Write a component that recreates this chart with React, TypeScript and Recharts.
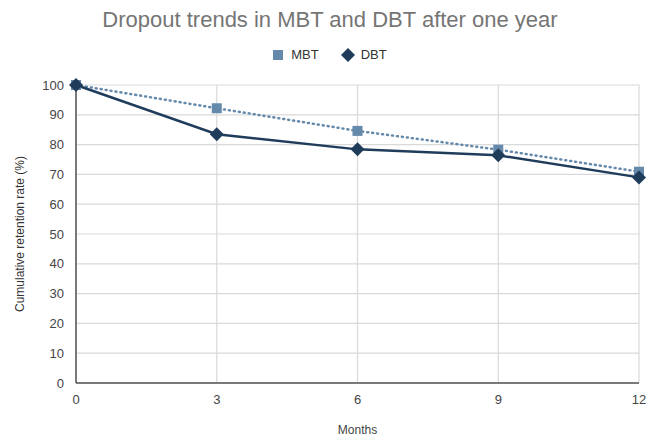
import { CartesianGrid, Line, LineChart, XAxis, YAxis } from 'recharts'

const months = [0, 3, 6, 9, 12]
const mbtValues = [100, 92.2, 84.6, 78.3, 70.9]
const dbtValues = [100, 83.5, 78.4, 76.4, 69.0]
const yTicks = [0, 10, 20, 30, 40, 50, 60, 70, 80, 90, 100]

const MBT_COLOR = '#6589ab'
const DBT_COLOR = '#1f3d5b'
const FONT = '"Liberation Sans", Arial, sans-serif'

const data = months.map((m, i) => ({ month: m, MBT: mbtValues[i], DBT: dbtValues[i] }))

function SquareDot(props: any) {
  const { cx, cy } = props
  if (cx == null || cy == null) return null
  return <rect x={cx - 5} y={cy - 5} width={10} height={10} fill={MBT_COLOR} />
}

function DiamondDot(props: any) {
  const { cx, cy } = props
  if (cx == null || cy == null) return null
  const r = 7
  return <polygon points={`${cx},${cy - r} ${cx + r},${cy} ${cx},${cy + r} ${cx - r},${cy}`} fill={DBT_COLOR} />
}

function ChartLegend() {
  return (
    <div
      style={{
        position: 'absolute',
        left: 0,
        top: 47,
        width: 660,
        display: 'flex',
        justifyContent: 'center',
        alignItems: 'center',
        fontFamily: FONT,
        fontSize: 13,
        color: '#333',
      }}
    >
      <svg width={10} height={10} style={{ marginRight: 8 }}>
        <rect x={0} y={0} width={10} height={10} fill={MBT_COLOR} />
      </svg>
      <span style={{ marginRight: 22 }}>MBT</span>
      <svg width={14} height={14} style={{ marginRight: 6 }}>
        <polygon points="7,0 14,7 7,14 0,7" fill={DBT_COLOR} />
      </svg>
      <span>DBT</span>
    </div>
  )
}

export default function App() {
  return (
    <div style={{ position: 'absolute', left: 0, top: 0, width: 660, height: 438, background: '#fff' }}>
      <div
        style={{
          position: 'absolute',
          left: 0,
          top: 7,
          width: 660,
          textAlign: 'center',
          fontFamily: FONT,
          fontSize: 22,
          color: '#757575',
        }}
      >
        Dropout trends in MBT and DBT after one year
      </div>
      <ChartLegend />
      <LineChart width={660} height={438} data={data} margin={{ top: 85, right: 21, bottom: 0, left: 0 }}>
        <CartesianGrid stroke="#d9d9d9" strokeWidth={1.2} />
        <XAxis
          dataKey="month"
          type="number"
          domain={[0, 12]}
          ticks={months}
          tickLine={false}
          axisLine={{ stroke: '#555', strokeWidth: 1.5 }}
          height={55}
          tick={{ fill: '#444', fontSize: 13, fontFamily: FONT }}
          tickMargin={6}
          label={{ value: 'Months', position: 'insideBottom', offset: 4, fill: '#444', fontSize: 12, fontFamily: FONT }}
        />
        <YAxis
          type="number"
          domain={[0, 100]}
          ticks={yTicks}
          tickLine={false}
          axisLine={{ stroke: '#555', strokeWidth: 1.5 }}
          width={76}
          tick={{ fill: '#444', fontSize: 13, fontFamily: FONT }}
          tickMargin={6}
          label={{
            value: 'Cumulative retention rate (%)',
            angle: -90,
            position: 'insideLeft',
            offset: 20,
            style: { textAnchor: 'middle', fill: '#333', fontSize: 12, fontFamily: FONT },
          }}
        />
        <Line
          dataKey="MBT"
          stroke={MBT_COLOR}
          strokeWidth={2.5}
          strokeDasharray="1 4"
          strokeLinecap="round"
          dot={<SquareDot />}
          activeDot={false}
          isAnimationActive={false}
        />
        <Line
          dataKey="DBT"
          stroke={DBT_COLOR}
          strokeWidth={2.5}
          dot={<DiamondDot />}
          activeDot={false}
          isAnimationActive={false}
        />
      </LineChart>
    </div>
  )
}
